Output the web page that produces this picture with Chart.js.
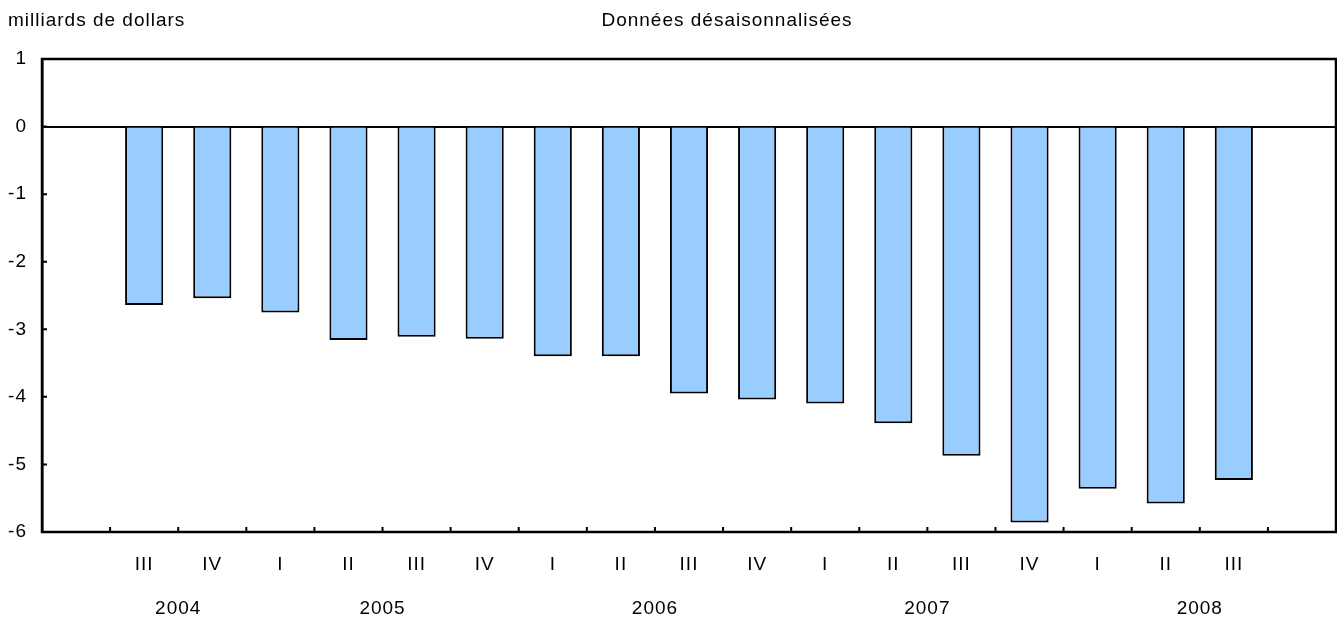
<!DOCTYPE html>
<html lang="fr">
  <head>
    <meta charset="UTF-8" />
    <title>Données désaisonnalisées</title>
    <script src="https://cdn.jsdelivr.net/npm/chart.js"></script>
    <style>
      html, body { margin: 0; padding: 0; background: #fff; }
      #wrap { width: 1337px; height: 619px; }
    </style>
  </head>
  <body>
    <div id="wrap"><canvas id="balanceChart" width="1337" height="619"></canvas></div>

    <script>
      const quarters = ["III", "IV", "I", "II", "III", "IV", "I", "II", "III", "IV", "I", "II", "III", "IV", "I", "II", "III"];
      const values = [-2.64, -2.54, -2.75, -3.16, -3.11, -3.14, -3.40, -3.40, -3.95, -4.04, -4.10, -4.39, -4.87, -5.86, -5.36, -5.58, -5.23];
      const years = ["2004", "2005", "2006", "2007", "2008"];
      const yearCenters = [1.5, 4.5, 8.5, 12.5, 16.5];
      const yTicks = [1, 0, -1, -2, -3, -4, -5, -6];
      const unitLabel = "milliards de dollars";
      const chartTitle = "Données désaisonnalisées";

      const FONT = '"Liberation Sans", Arial, Helvetica, sans-serif';
      const FSIZE = 19;

      // one empty slot on each side, like the original
      const labels = [""].concat(quarters, [""]);
      const data = [null].concat(values, [null]);

      const framePlugin = {
        id: "frame",
        beforeDraw(chart) {
          chart.ctx.letterSpacing = "1px";
        },
        afterDraw(chart) {
          const { ctx, chartArea: a, scales } = chart;
          ctx.save();
          ctx.strokeStyle = "#000";
          ctx.lineWidth = 2.5;
          ctx.strokeRect(a.left, a.top, a.right - a.left, a.bottom - a.top);

          // inward tick marks on y
          ctx.lineWidth = 2;
          ctx.beginPath();
          scales.y.ticks.forEach((t) => {
            const py = scales.y.getPixelForValue(t.value);
            ctx.moveTo(a.left, py);
            ctx.lineTo(a.left + 5, py);
          });
          // inward tick marks between categories on x
          const x = scales.x;
          for (let i = 0; i < labels.length - 1; i++) {
            const px = (x.getPixelForTick(i) + x.getPixelForTick(i + 1)) / 2;
            ctx.moveTo(px, a.bottom);
            ctx.lineTo(px, a.bottom - 5);
          }
          ctx.stroke();

          ctx.fillStyle = "#000";
          ctx.font = FSIZE + "px " + FONT;
          ctx.letterSpacing = "1px";
          ctx.textBaseline = "alphabetic";
          ctx.textAlign = "left";
          ctx.fillText(unitLabel, 8, 26);
          ctx.textAlign = "center";
          ctx.fillText(chartTitle, 727, 26);
          ctx.restore();
        },
      };

      new Chart(document.getElementById("balanceChart").getContext("2d"), {
        type: "bar",
        data: {
          labels: labels,
          datasets: [
            {
              data: data,
              backgroundColor: "#99CCFF",
              borderColor: "#000",
              borderWidth: 2,
              barPercentage: 0.56,
              categoryPercentage: 1,
            },
          ],
        },
        options: {
          responsive: false,
          animation: false,
          layout: { padding: { top: 59, right: 1, left: 0, bottom: 0 } },
          plugins: {
            legend: { display: false },
            tooltip: { enabled: false },
          },
          scales: {
            x: {
              type: "category",
              position: "bottom",
              grid: { display: false, offset: true },
              border: { display: false },
              ticks: {
                color: "#000",
                font: { size: FSIZE, family: FONT },
                padding: 13,
                maxRotation: 0,
                autoSkip: false,
              },
              afterFit(s) { s.height = 45; },
            },
            years: {
              type: "linear",
              position: "bottom",
              offset: false,
              min: -0.5,
              max: labels.length - 0.5,
              grid: { display: false, offset: false },
              border: { display: false },
              afterBuildTicks(s) {
                s.ticks = yearCenters.map((v) => ({ value: v }));
              },
              ticks: {
                color: "#000",
                font: { size: FSIZE, family: FONT },
                padding: 12,
                maxRotation: 0,
                autoSkip: false,
                callback: (v) => years[yearCenters.indexOf(v)],
              },
              afterFit(s) { s.height = 42; },
            },
            y: {
              min: -6,
              max: 1,
              afterBuildTicks(s) {
                s.ticks = yTicks.map((v) => ({ value: v }));
              },
              grid: {
                drawTicks: false,
                color: (c) => (c.tick && c.tick.value === 0 ? "#000" : "rgba(0,0,0,0)"),
                lineWidth: 2,
              },
              border: { display: true, color: "#000", width: 2.5 },
              ticks: {
                color: "#000",
                font: { size: FSIZE, family: FONT },
                padding: 15,
              },
              afterFit(s) { s.width = 42; },
            },
          },
        },
        plugins: [framePlugin],
      });
    </script>
  </body>
</html>
